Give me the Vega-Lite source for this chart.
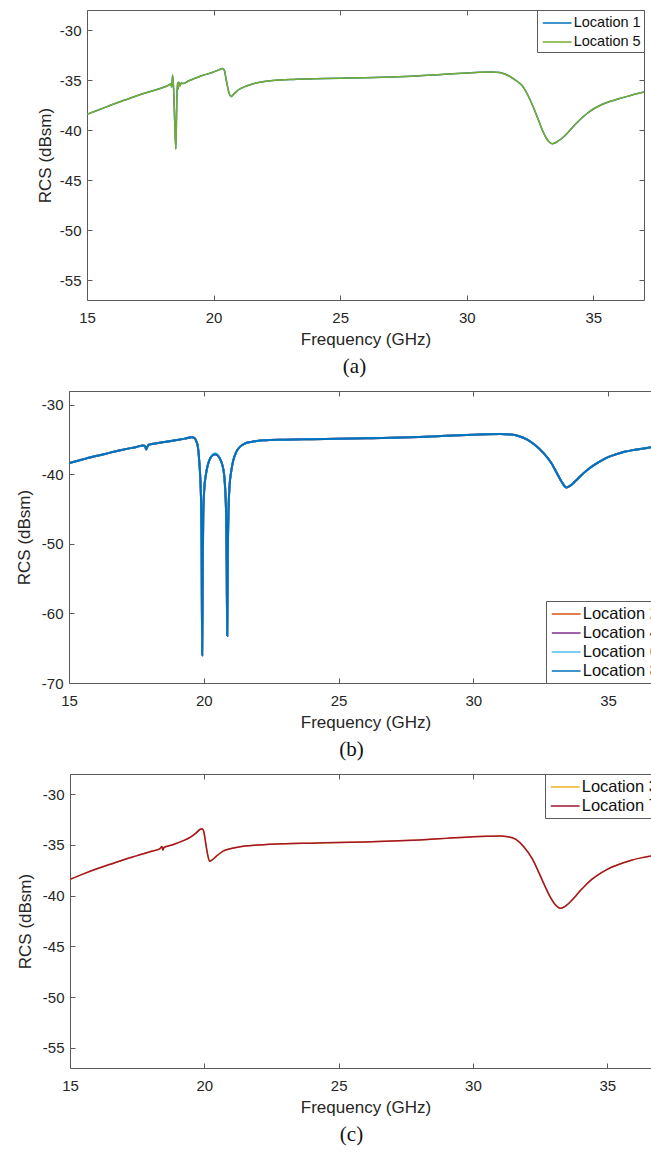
{
  "$schema": "https://vega.github.io/schema/vega-lite/v6.json",
  "padding": {"left": 14, "top": 9, "right": 0, "bottom": 0},
  "center": true,
  "spacing": 12,
  "resolve": {"scale": {"color": "independent"}, "legend": {"color": "independent"}},
  "config": {
    "font": "Liberation Sans",
    "view": {"stroke": "#5a5a5a", "strokeWidth": 1},
    "axis": {
      "labelFont": "Liberation Sans", "labelFontSize": 15, "labelColor": "#262626",
      "titleFont": "Liberation Sans", "titleFontSize": 17, "titleColor": "#262626", "titleFontWeight": "normal",
      "grid": false, "domain": false, "tickColor": "#5a5a5a", "tickSize": -5, "tickWidth": 1
    },
    "axisX": {"labelPadding": 15, "titlePadding": 6, "labelFlush": false},
    "axisY": {"labelPadding": 11, "titlePadding": 5},
    "legend": {
      "title": null, "offset": 0, "padding": 3, "strokeColor": "#5a5a5a", "fillColor": "white",
      "symbolType": "M-0.8,0H2.4", "symbolSize": 324, "symbolStrokeWidth": 1.5, "labelOffset": 13.7,
      "labelFont": "Liberation Sans", "labelFontSize": 16.5, "labelColor": "#111", "rowPadding": 0
    },
    "title": {"font": "Liberation Serif", "fontSize": 21, "fontWeight": "normal", "color": "#111", "orient": "bottom", "frame": "group", "offset": 9}
  },
  "vconcat": [
    {
      "width": 557, "height": 290,
      "title": {"text": "(a)", "dx": -11},
      "data": {"values": [
        {"f":15.0,"L1":-38.43,"L5":-38.43},{"f":15.5,"L1":-37.95,"L5":-37.95},{"f":16.0,"L1":-37.45,"L5":-37.45},
        {"f":16.5,"L1":-37.0,"L5":-37.0},{"f":17.0,"L1":-36.55,"L5":-36.55},{"f":17.5,"L1":-36.15,"L5":-36.15},
        {"f":18.0,"L1":-35.75,"L5":-35.75},{"f":18.2,"L1":-35.55,"L5":-35.55},{"f":18.3,"L1":-35.4,"L5":-35.4},
        {"f":18.35,"L1":-35.7,"L5":-35.7},{"f":18.38,"L1":-34.5,"L5":-34.5},{"f":18.42,"L1":-35.8,"L5":-35.8},
        {"f":18.47,"L1":-39.6,"L5":-39.6},{"f":18.51,"L1":-41.9,"L5":-41.9},{"f":18.54,"L1":-38.0,"L5":-38.0},
        {"f":18.57,"L1":-35.3,"L5":-35.3},{"f":18.6,"L1":-35.9,"L5":-35.9},{"f":18.63,"L1":-35.2,"L5":-35.2},
        {"f":18.67,"L1":-35.6,"L5":-35.6},{"f":18.72,"L1":-35.3,"L5":-35.3},{"f":18.8,"L1":-35.35,"L5":-35.35},
        {"f":19.0,"L1":-35.1,"L5":-35.1},{"f":19.5,"L1":-34.6,"L5":-34.6},{"f":20.0,"L1":-34.2,"L5":-34.2},
        {"f":20.2,"L1":-34.0,"L5":-34.0},{"f":20.35,"L1":-33.85,"L5":-33.85},{"f":20.42,"L1":-34.0,"L5":-34.0},
        {"f":20.5,"L1":-35.0,"L5":-35.0},{"f":20.6,"L1":-36.2,"L5":-36.2},{"f":20.7,"L1":-36.65,"L5":-36.65},
        {"f":20.8,"L1":-36.4,"L5":-36.4},{"f":21.0,"L1":-35.95,"L5":-35.95},{"f":21.3,"L1":-35.6,"L5":-35.6},
        {"f":21.6,"L1":-35.35,"L5":-35.35},{"f":22.0,"L1":-35.15,"L5":-35.15},{"f":23.0,"L1":-34.95,"L5":-34.95},
        {"f":24.0,"L1":-34.88,"L5":-34.88},{"f":25.0,"L1":-34.82,"L5":-34.82},{"f":26.0,"L1":-34.77,"L5":-34.77},
        {"f":27.0,"L1":-34.7,"L5":-34.7},{"f":28.0,"L1":-34.6,"L5":-34.6},{"f":29.0,"L1":-34.45,"L5":-34.45},
        {"f":30.0,"L1":-34.3,"L5":-34.3},{"f":30.5,"L1":-34.22,"L5":-34.22},{"f":31.0,"L1":-34.2,"L5":-34.2},
        {"f":31.3,"L1":-34.25,"L5":-34.25},{"f":31.55,"L1":-34.45,"L5":-34.45},{"f":31.8,"L1":-34.8,"L5":-34.8},
        {"f":32.0,"L1":-35.15,"L5":-35.15},{"f":32.2,"L1":-35.6,"L5":-35.6},{"f":32.4,"L1":-36.45,"L5":-36.45},
        {"f":32.6,"L1":-37.55,"L5":-37.55},{"f":32.8,"L1":-38.8,"L5":-38.8},{"f":33.0,"L1":-40.1,"L5":-40.1},
        {"f":33.15,"L1":-40.85,"L5":-40.85},{"f":33.28,"L1":-41.25,"L5":-41.25},{"f":33.38,"L1":-41.37,"L5":-41.37},
        {"f":33.48,"L1":-41.3,"L5":-41.3},{"f":33.6,"L1":-41.12,"L5":-41.12},{"f":33.75,"L1":-40.85,"L5":-40.85},
        {"f":33.9,"L1":-40.5,"L5":-40.5},{"f":34.1,"L1":-39.95,"L5":-39.95},{"f":34.3,"L1":-39.4,"L5":-39.4},
        {"f":34.5,"L1":-38.9,"L5":-38.9},{"f":34.75,"L1":-38.35,"L5":-38.35},{"f":35.0,"L1":-37.9,"L5":-37.9},
        {"f":35.3,"L1":-37.5,"L5":-37.5},{"f":35.65,"L1":-37.15,"L5":-37.15},{"f":36.0,"L1":-36.88,"L5":-36.88},
        {"f":36.5,"L1":-36.52,"L5":-36.52},{"f":37.0,"L1":-36.2,"L5":-36.2}
      ]},
      "transform": [{"fold": ["L1", "L5"], "as": ["loc", "v"]}],
      "layer": [
        {
          "mark": {"type": "line", "strokeWidth": 1.5, "clip": true, "interpolate": "monotone"},
          "encoding": {
            "x": {"field": "f", "type": "quantitative", "scale": {"domain": [15, 37], "nice": false}, "axis": {"values": [15, 20, 25, 30, 35], "title": "Frequency (GHz)"}},
            "y": {"field": "v", "type": "quantitative", "scale": {"domain": [-57, -28], "nice": false, "zero": false}, "axis": {"values": [-30, -35, -40, -45, -50, -55], "title": "RCS (dBsm)", "labelExpr": "replace(datum.label, '−', '-')"}},
            "color": {"field": "loc", "type": "nominal", "scale": {"domain": ["L1", "L5"], "range": ["#0072BD", "#77AC30"]}, "legend": {"orient": "top-right", "labelFontSize": 14.5, "rowPadding": 2, "labelExpr": "'Location ' + substring(datum.label, 1)"}}
          }
        },
        {
          "mark": {"type": "line", "strokeOpacity": 0},
          "encoding": {
            "x": {"field": "f", "type": "quantitative", "axis": {"orient": "top", "labels": false, "title": null, "values": [15, 20, 25, 30, 35]}},
            "y": {"field": "v", "type": "quantitative", "axis": {"orient": "right", "labels": false, "title": null, "values": [-30, -35, -40, -45, -50, -55]}}
          }
        }
      ],
      "resolve": {"axis": {"x": "independent", "y": "independent"}}
    },
    {
      "width": 593, "height": 292,
      "title": {"text": "(b)", "dx": -14},
      "data": {"values": [
        {"f":15.0,"L2":-38.37,"L4":-38.37,"L6":-38.37,"L8":-38.37},
        {"f":15.5,"L2":-37.85,"L4":-37.85,"L6":-37.85,"L8":-37.85},
        {"f":16.0,"L2":-37.35,"L4":-37.35,"L6":-37.35,"L8":-37.35},
        {"f":16.5,"L2":-36.9,"L4":-36.9,"L6":-36.9,"L8":-36.9},
        {"f":17.0,"L2":-36.45,"L4":-36.45,"L6":-36.45,"L8":-36.45},
        {"f":17.5,"L2":-36.05,"L4":-36.05,"L6":-36.05,"L8":-36.05},
        {"f":17.75,"L2":-35.85,"L4":-35.85,"L6":-35.85,"L8":-35.85},
        {"f":17.82,"L2":-35.9,"L4":-35.9,"L6":-35.9,"L8":-35.9},
        {"f":17.86,"L2":-36.4,"L4":-36.4,"L6":-36.4,"L8":-36.4},
        {"f":17.9,"L2":-36.1,"L4":-36.1,"L6":-36.1,"L8":-36.1},
        {"f":17.95,"L2":-35.75,"L4":-35.75,"L6":-35.75,"L8":-35.75},
        {"f":18.2,"L2":-35.55,"L4":-35.55,"L6":-35.55,"L8":-35.55},
        {"f":18.6,"L2":-35.3,"L4":-35.3,"L6":-35.3,"L8":-35.3},
        {"f":19.0,"L2":-35.05,"L4":-35.05,"L6":-35.05,"L8":-35.05},
        {"f":19.3,"L2":-34.85,"L4":-34.85,"L6":-34.85,"L8":-34.85},
        {"f":19.55,"L2":-34.65,"L4":-34.65,"L6":-34.65,"L8":-34.65},
        {"f":19.65,"L2":-34.75,"L4":-34.75,"L6":-34.75,"L8":-34.75},
        {"f":19.72,"L2":-35.2,"L4":-35.2,"L6":-35.2,"L8":-35.2},
        {"f":19.78,"L2":-36.0,"L4":-36.0,"L6":-36.0,"L8":-36.0},
        {"f":19.83,"L2":-38.0,"L4":-38.0,"L6":-38.0,"L8":-38.0},
        {"f":19.87,"L2":-40.5,"L4":-40.5,"L6":-40.5,"L8":-40.5},
        {"f":19.9,"L2":-44.0,"L4":-44.0,"L6":-44.0,"L8":-44.0},
        {"f":19.92,"L2":-50.0,"L4":-50.0,"L6":-50.0,"L8":-50.0},
        {"f":19.94,"L2":-66.0,"L4":-66.0,"L6":-66.0,"L8":-66.0},
        {"f":19.96,"L2":-55.0,"L4":-55.0,"L6":-55.0,"L8":-55.0},
        {"f":19.98,"L2":-46.0,"L4":-46.0,"L6":-46.0,"L8":-46.0},
        {"f":20.02,"L2":-42.0,"L4":-42.0,"L6":-42.0,"L8":-42.0},
        {"f":20.08,"L2":-40.0,"L4":-40.0,"L6":-40.0,"L8":-40.0},
        {"f":20.16,"L2":-38.5,"L4":-38.5,"L6":-38.5,"L8":-38.5},
        {"f":20.25,"L2":-37.6,"L4":-37.6,"L6":-37.6,"L8":-37.6},
        {"f":20.35,"L2":-37.2,"L4":-37.2,"L6":-37.05,"L8":-37.2},
        {"f":20.43,"L2":-37.1,"L4":-37.1,"L6":-36.95,"L8":-37.1},
        {"f":20.52,"L2":-37.3,"L4":-37.3,"L6":-37.15,"L8":-37.3},
        {"f":20.62,"L2":-37.9,"L4":-37.9,"L6":-37.9,"L8":-37.9},
        {"f":20.7,"L2":-38.8,"L4":-38.8,"L6":-38.8,"L8":-38.8},
        {"f":20.76,"L2":-40.2,"L4":-40.2,"L6":-40.2,"L8":-40.2},
        {"f":20.8,"L2":-42.5,"L4":-42.5,"L6":-42.5,"L8":-42.5},
        {"f":20.83,"L2":-46.0,"L4":-46.0,"L6":-46.0,"L8":-46.0},
        {"f":20.85,"L2":-53.0,"L4":-53.0,"L6":-53.0,"L8":-53.0},
        {"f":20.87,"L2":-63.2,"L4":-63.2,"L6":-63.2,"L8":-63.2},
        {"f":20.89,"L2":-52.0,"L4":-52.0,"L6":-52.0,"L8":-52.0},
        {"f":20.92,"L2":-45.0,"L4":-45.0,"L6":-45.0,"L8":-45.0},
        {"f":20.96,"L2":-41.5,"L4":-41.5,"L6":-41.5,"L8":-41.5},
        {"f":21.02,"L2":-39.5,"L4":-39.5,"L6":-39.5,"L8":-39.5},
        {"f":21.1,"L2":-37.9,"L4":-37.9,"L6":-37.9,"L8":-37.9},
        {"f":21.2,"L2":-36.8,"L4":-36.8,"L6":-36.8,"L8":-36.8},
        {"f":21.35,"L2":-36.0,"L4":-36.0,"L6":-36.0,"L8":-36.0},
        {"f":21.5,"L2":-35.6,"L4":-35.6,"L6":-35.6,"L8":-35.6},
        {"f":21.8,"L2":-35.3,"L4":-35.3,"L6":-35.3,"L8":-35.3},
        {"f":22.2,"L2":-35.1,"L4":-35.1,"L6":-35.1,"L8":-35.1},
        {"f":23.0,"L2":-35.0,"L4":-35.0,"L6":-35.0,"L8":-35.0},
        {"f":24.0,"L2":-34.93,"L4":-34.93,"L6":-34.93,"L8":-34.93},
        {"f":25.0,"L2":-34.87,"L4":-34.87,"L6":-34.87,"L8":-34.87},
        {"f":26.0,"L2":-34.8,"L4":-34.8,"L6":-34.8,"L8":-34.8},
        {"f":27.0,"L2":-34.72,"L4":-34.72,"L6":-34.72,"L8":-34.72},
        {"f":28.0,"L2":-34.6,"L4":-34.6,"L6":-34.6,"L8":-34.6},
        {"f":29.0,"L2":-34.45,"L4":-34.45,"L6":-34.45,"L8":-34.45},
        {"f":30.0,"L2":-34.3,"L4":-34.3,"L6":-34.3,"L8":-34.3},
        {"f":30.5,"L2":-34.22,"L4":-34.22,"L6":-34.22,"L8":-34.22},
        {"f":31.0,"L2":-34.2,"L4":-34.2,"L6":-34.2,"L8":-34.2},
        {"f":31.4,"L2":-34.25,"L4":-34.25,"L6":-34.25,"L8":-34.25},
        {"f":31.7,"L2":-34.5,"L4":-34.5,"L6":-34.5,"L8":-34.5},
        {"f":32.0,"L2":-35.0,"L4":-35.0,"L6":-35.0,"L8":-35.0},
        {"f":32.3,"L2":-35.8,"L4":-35.8,"L6":-35.8,"L8":-35.8},
        {"f":32.6,"L2":-36.9,"L4":-36.9,"L6":-36.9,"L8":-36.9},
        {"f":32.9,"L2":-38.4,"L4":-38.4,"L6":-38.4,"L8":-38.4},
        {"f":33.1,"L2":-39.8,"L4":-39.8,"L6":-39.8,"L8":-39.8},
        {"f":33.3,"L2":-41.2,"L4":-41.2,"L6":-41.2,"L8":-41.2},
        {"f":33.45,"L2":-41.87,"L4":-41.87,"L6":-41.87,"L8":-41.87},
        {"f":33.6,"L2":-41.6,"L4":-41.6,"L6":-41.6,"L8":-41.6},
        {"f":33.8,"L2":-40.9,"L4":-40.9,"L6":-40.9,"L8":-40.9},
        {"f":34.0,"L2":-40.15,"L4":-40.15,"L6":-40.15,"L8":-40.15},
        {"f":34.25,"L2":-39.3,"L4":-39.3,"L6":-39.3,"L8":-39.3},
        {"f":34.5,"L2":-38.6,"L4":-38.6,"L6":-38.6,"L8":-38.6},
        {"f":34.75,"L2":-38.0,"L4":-38.0,"L6":-38.0,"L8":-38.0},
        {"f":35.0,"L2":-37.5,"L4":-37.5,"L6":-37.5,"L8":-37.5},
        {"f":35.3,"L2":-37.1,"L4":-37.1,"L6":-37.1,"L8":-37.1},
        {"f":35.6,"L2":-36.75,"L4":-36.75,"L6":-36.75,"L8":-36.75},
        {"f":36.0,"L2":-36.45,"L4":-36.45,"L6":-36.45,"L8":-36.45},
        {"f":36.5,"L2":-36.15,"L4":-36.15,"L6":-36.15,"L8":-36.15},
        {"f":37.0,"L2":-35.95,"L4":-35.95,"L6":-35.95,"L8":-35.95}
      ]},
      "transform": [{"fold": ["L2", "L4", "L6", "L8"], "as": ["loc", "v"]}],
      "layer": [
        {
          "mark": {"type": "line", "strokeWidth": 2, "clip": true, "interpolate": "monotone"},
          "encoding": {
            "x": {"field": "f", "type": "quantitative", "scale": {"domain": [15, 37], "nice": false}, "axis": {"values": [15, 20, 25, 30, 35], "title": "Frequency (GHz)"}},
            "y": {"field": "v", "type": "quantitative", "scale": {"domain": [-70, -28], "nice": false, "zero": false}, "axis": {"values": [-30, -40, -50, -60, -70], "title": "RCS (dBsm)", "titlePadding": 8, "labelExpr": "replace(datum.label, '−', '-')"}},
            "color": {"field": "loc", "type": "nominal", "scale": {"domain": ["L2", "L4", "L6", "L8"], "range": ["#D95319", "#7E2F8E", "#4DBEEE", "#0072BD"]}, "legend": {"orient": "bottom-right", "rowPadding": -1, "labelExpr": "'Location ' + substring(datum.label, 1)"}}
          }
        },
        {
          "mark": {"type": "line", "strokeOpacity": 0},
          "encoding": {
            "x": {"field": "f", "type": "quantitative", "axis": {"orient": "top", "labels": false, "title": null, "values": [15, 20, 25, 30, 35]}},
            "y": {"field": "v", "type": "quantitative", "axis": {"orient": "right", "labels": false, "title": null, "values": [-30, -40, -50, -60, -70]}}
          }
        }
      ],
      "resolve": {"axis": {"x": "independent", "y": "independent"}}
    },
    {
      "width": 591, "height": 294,
      "title": {"text": "(c)", "dx": -14},
      "data": {"values": [
        {"f":15.0,"L3":-38.39,"L7":-38.39},{"f":15.5,"L3":-37.85,"L7":-37.85},{"f":16.0,"L3":-37.35,"L7":-37.35},
        {"f":16.5,"L3":-36.9,"L7":-36.9},{"f":17.0,"L3":-36.45,"L7":-36.45},{"f":17.5,"L3":-36.05,"L7":-36.05},
        {"f":18.0,"L3":-35.65,"L7":-35.65},{"f":18.35,"L3":-35.35,"L7":-35.35},{"f":18.42,"L3":-35.15,"L7":-35.15},
        {"f":18.46,"L3":-35.5,"L7":-35.5},{"f":18.5,"L3":-35.25,"L7":-35.25},{"f":18.8,"L3":-35.0,"L7":-35.0},
        {"f":19.2,"L3":-34.6,"L7":-34.6},{"f":19.5,"L3":-34.2,"L7":-34.2},{"f":19.7,"L3":-33.8,"L7":-33.8},
        {"f":19.85,"L3":-33.45,"L7":-33.45},{"f":19.92,"L3":-33.4,"L7":-33.4},{"f":19.98,"L3":-33.7,"L7":-33.7},
        {"f":20.05,"L3":-34.8,"L7":-34.8},{"f":20.12,"L3":-35.9,"L7":-35.9},{"f":20.2,"L3":-36.6,"L7":-36.6},
        {"f":20.28,"L3":-36.5,"L7":-36.5},{"f":20.45,"L3":-36.1,"L7":-36.1},{"f":20.7,"L3":-35.6,"L7":-35.6},
        {"f":21.0,"L3":-35.35,"L7":-35.35},{"f":21.5,"L3":-35.1,"L7":-35.1},{"f":22.0,"L3":-35.0,"L7":-35.0},
        {"f":23.0,"L3":-34.88,"L7":-34.88},{"f":24.0,"L3":-34.82,"L7":-34.82},{"f":25.0,"L3":-34.76,"L7":-34.76},
        {"f":26.0,"L3":-34.7,"L7":-34.7},{"f":27.0,"L3":-34.62,"L7":-34.62},{"f":28.0,"L3":-34.5,"L7":-34.5},
        {"f":29.0,"L3":-34.35,"L7":-34.35},{"f":30.0,"L3":-34.2,"L7":-34.2},{"f":30.5,"L3":-34.15,"L7":-34.15},
        {"f":31.0,"L3":-34.12,"L7":-34.12},{"f":31.3,"L3":-34.18,"L7":-34.18},{"f":31.6,"L3":-34.45,"L7":-34.45},
        {"f":31.9,"L3":-35.2,"L7":-35.2},{"f":32.2,"L3":-36.33,"L7":-36.33},{"f":32.45,"L3":-37.7,"L7":-37.7},
        {"f":32.66,"L3":-38.95,"L7":-38.95},{"f":32.85,"L3":-40.0,"L7":-40.0},{"f":33.05,"L3":-40.85,"L7":-40.85},
        {"f":33.25,"L3":-41.24,"L7":-41.24},{"f":33.4,"L3":-41.1,"L7":-41.1},{"f":33.55,"L3":-40.8,"L7":-40.8},
        {"f":33.7,"L3":-40.4,"L7":-40.4},{"f":33.85,"L3":-39.95,"L7":-39.95},{"f":34.0,"L3":-39.5,"L7":-39.5},
        {"f":34.2,"L3":-38.95,"L7":-38.95},{"f":34.4,"L3":-38.45,"L7":-38.45},{"f":34.6,"L3":-38.05,"L7":-38.05},
        {"f":34.8,"L3":-37.7,"L7":-37.7},{"f":35.0,"L3":-37.4,"L7":-37.4},{"f":35.3,"L3":-37.05,"L7":-37.05},
        {"f":35.6,"L3":-36.75,"L7":-36.75},{"f":35.9,"L3":-36.5,"L7":-36.5},{"f":36.3,"L3":-36.25,"L7":-36.25},
        {"f":36.7,"L3":-36.05,"L7":-36.05},{"f":37.0,"L3":-35.95,"L7":-35.95}
      ]},
      "transform": [{"fold": ["L3", "L7"], "as": ["loc", "v"]}],
      "layer": [
        {
          "mark": {"type": "line", "strokeWidth": 1.5, "clip": true, "interpolate": "monotone"},
          "encoding": {
            "x": {"field": "f", "type": "quantitative", "scale": {"domain": [15, 37], "nice": false}, "axis": {"values": [15, 20, 25, 30, 35], "title": "Frequency (GHz)"}},
            "y": {"field": "v", "type": "quantitative", "scale": {"domain": [-57, -28], "nice": false, "zero": false}, "axis": {"values": [-30, -35, -40, -45, -50, -55], "title": "RCS (dBsm)", "titlePadding": 8, "labelExpr": "replace(datum.label, '−', '-')"}},
            "color": {"field": "loc", "type": "nominal", "scale": {"domain": ["L3", "L7"], "range": ["#EDB120", "#A2142F"]}, "legend": {"orient": "top-right", "rowPadding": 0, "labelExpr": "'Location ' + substring(datum.label, 1)"}}
          }
        },
        {
          "mark": {"type": "line", "strokeOpacity": 0},
          "encoding": {
            "x": {"field": "f", "type": "quantitative", "axis": {"orient": "top", "labels": false, "title": null, "values": [15, 20, 25, 30, 35]}},
            "y": {"field": "v", "type": "quantitative", "axis": {"orient": "right", "labels": false, "title": null, "values": [-30, -35, -40, -45, -50, -55]}}
          }
        }
      ],
      "resolve": {"axis": {"x": "independent", "y": "independent"}}
    }
  ]
}
